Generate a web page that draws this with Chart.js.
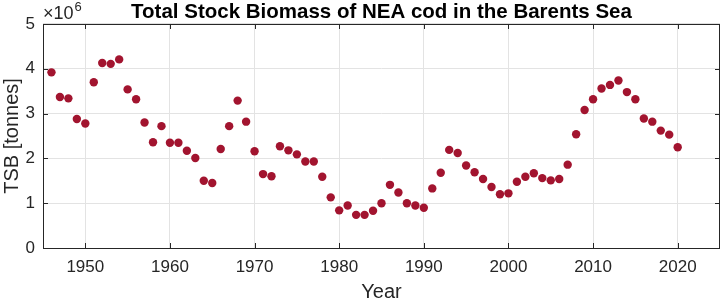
<!DOCTYPE html>
<html>
<head>
<meta charset="utf-8">
<script src="https://cdn.jsdelivr.net/npm/chart.js@4/dist/chart.umd.min.js"></script>
<style>
  html, body { margin: 0; padding: 0; background: #fff; }
  #wrap { width: 728px; height: 304px; }
</style>
</head>
<body>
<div id="wrap"><canvas id="myChart" width="728" height="304"></canvas></div>
<script>
// Total stock biomass, millions of tonnes (axis shows x10^6)
const years = [
  1946, 1947, 1948, 1949, 1950, 1951, 1952, 1953, 1954, 1955, 1956, 1957, 1958, 1959,
  1960, 1961, 1962, 1963, 1964, 1965, 1966, 1967, 1968, 1969,
  1970, 1971, 1972, 1973, 1974, 1975, 1976, 1977, 1978, 1979,
  1980, 1981, 1982, 1983, 1984, 1985, 1986, 1987, 1988, 1989,
  1990, 1991, 1992, 1993, 1994, 1995, 1996, 1997, 1998, 1999,
  2000, 2001, 2002, 2003, 2004, 2005, 2006, 2007, 2008, 2009,
  2010, 2011, 2012, 2013, 2014, 2015, 2016, 2017, 2018, 2019, 2020
];
const tsb = [
  3.92, 3.37, 3.34, 2.88, 2.78, 3.70, 4.13, 4.11, 4.21, 3.54, 3.32, 2.80, 2.36, 2.72,
  2.35, 2.35, 2.17, 2.01, 1.50, 1.45, 2.21, 2.72, 3.29, 2.82,
  2.16, 1.65, 1.60, 2.27, 2.18, 2.09, 1.93, 1.93, 1.59, 1.13,
  0.84, 0.95, 0.74, 0.74, 0.83, 1.00, 1.41, 1.24, 1.00, 0.95,
  0.90, 1.33, 1.68, 2.19, 2.12, 1.84, 1.69, 1.54, 1.36, 1.20,
  1.22, 1.48, 1.59, 1.67, 1.56, 1.51, 1.54, 1.86, 2.54, 3.08,
  3.32, 3.56, 3.64, 3.74, 3.48, 3.32, 2.89, 2.82, 2.62, 2.53, 2.25
];
const xTicks = [1950, 1960, 1970, 1980, 1990, 2000, 2010, 2020];
const yTicks = [0, 1, 2, 3, 4, 5];

const FONT = "Arial, 'Liberation Sans', Helvetica, sans-serif";
const axisColor = '#262626';

// MATLAB style box, inward ticks and the x10^6 exponent label
const boxPlugin = {
  id: 'box',
  afterDraw(chart) {
    const {ctx, chartArea: a, scales} = chart;
    ctx.save();
    ctx.strokeStyle = axisColor;
    ctx.lineWidth = 1;
    ctx.strokeRect(a.left + 0.5, a.top + 0.5, a.right - a.left - 1, a.bottom - a.top);
    ctx.beginPath();
    xTicks.forEach(t => {
      const x = Math.round(scales.x.getPixelForValue(t)) + 0.5;
      ctx.moveTo(x, a.bottom); ctx.lineTo(x, a.bottom - 5);
      ctx.moveTo(x, a.top); ctx.lineTo(x, a.top + 5);
    });
    yTicks.forEach(t => {
      const y = Math.round(scales.y.getPixelForValue(t)) + 0.5;
      ctx.moveTo(a.left, y); ctx.lineTo(a.left + 5, y);
      ctx.moveTo(a.right, y); ctx.lineTo(a.right - 5, y);
    });
    ctx.stroke();
    ctx.fillStyle = axisColor;
    ctx.textBaseline = 'alphabetic';
    ctx.textAlign = 'left';
    ctx.font = '18px ' + FONT;
    ctx.fillText('\u00d710', a.left, a.top - 5);
    const w = ctx.measureText('\u00d710').width;
    ctx.font = '13px ' + FONT;
    ctx.fillText('6', a.left + w + 1, a.top - 13);
    ctx.restore();
  }
};

const ctx = document.getElementById('myChart').getContext('2d');
const chart = new Chart(ctx, {
  type: 'scatter',
  data: {
    datasets: [{
      data: years.map((y, i) => ({x: y, y: tsb[i]})),
      backgroundColor: '#A2142F',
      borderColor: '#A2142F',
      pointRadius: 4.2,
      pointHoverRadius: 4.2,
      borderWidth: 0
    }]
  },
  options: {
    responsive: false,
    animation: false,
    layout: { padding: { left: 0, right: 8, top: 0, bottom: 0 } },
    plugins: {
      legend: { display: false },
      tooltip: { enabled: false },
      title: {
        display: true,
        fullSize: false,
        text: 'Total Stock Biomass of NEA cod in the Barents Sea',
        color: '#000',
        font: { family: FONT, size: 20.5, weight: 'bold', lineHeight: 1.17 },
        padding: { top: 0, bottom: 0 }
      }
    },
    scales: {
      x: {
        type: 'linear',
        min: 1945,
        max: 2025,
        afterBuildTicks: s => { s.ticks = xTicks.map(v => ({value: v})); },
        afterFit: s => { s.height = 56; },
        grid: { color: '#e3e3e3', drawTicks: false },
        border: { display: false },
        ticks: { color: axisColor, font: { family: FONT, size: 17 }, padding: 9, maxRotation: 0,
                 callback: v => String(v) },
        title: { display: true, text: 'Year', color: axisColor, font: { family: FONT, size: 20 }, padding: { top: 0, bottom: 0 } }
      },
      y: {
        min: 0,
        max: 5,
        afterBuildTicks: s => { s.ticks = yTicks.map(v => ({value: v})); },
        afterFit: s => { s.width = 43; },
        grid: { color: '#e3e3e3', drawTicks: false },
        border: { display: false },
        ticks: { color: axisColor, font: { family: FONT, size: 17 }, padding: 8, callback: v => String(v) },
        title: { display: true, text: 'TSB [tonnes]', color: axisColor, font: { family: FONT, size: 20 }, padding: { top: 0, bottom: 0 } }
      }
    }
  },
  plugins: [boxPlugin]
});
</script>
</body>
</html>
